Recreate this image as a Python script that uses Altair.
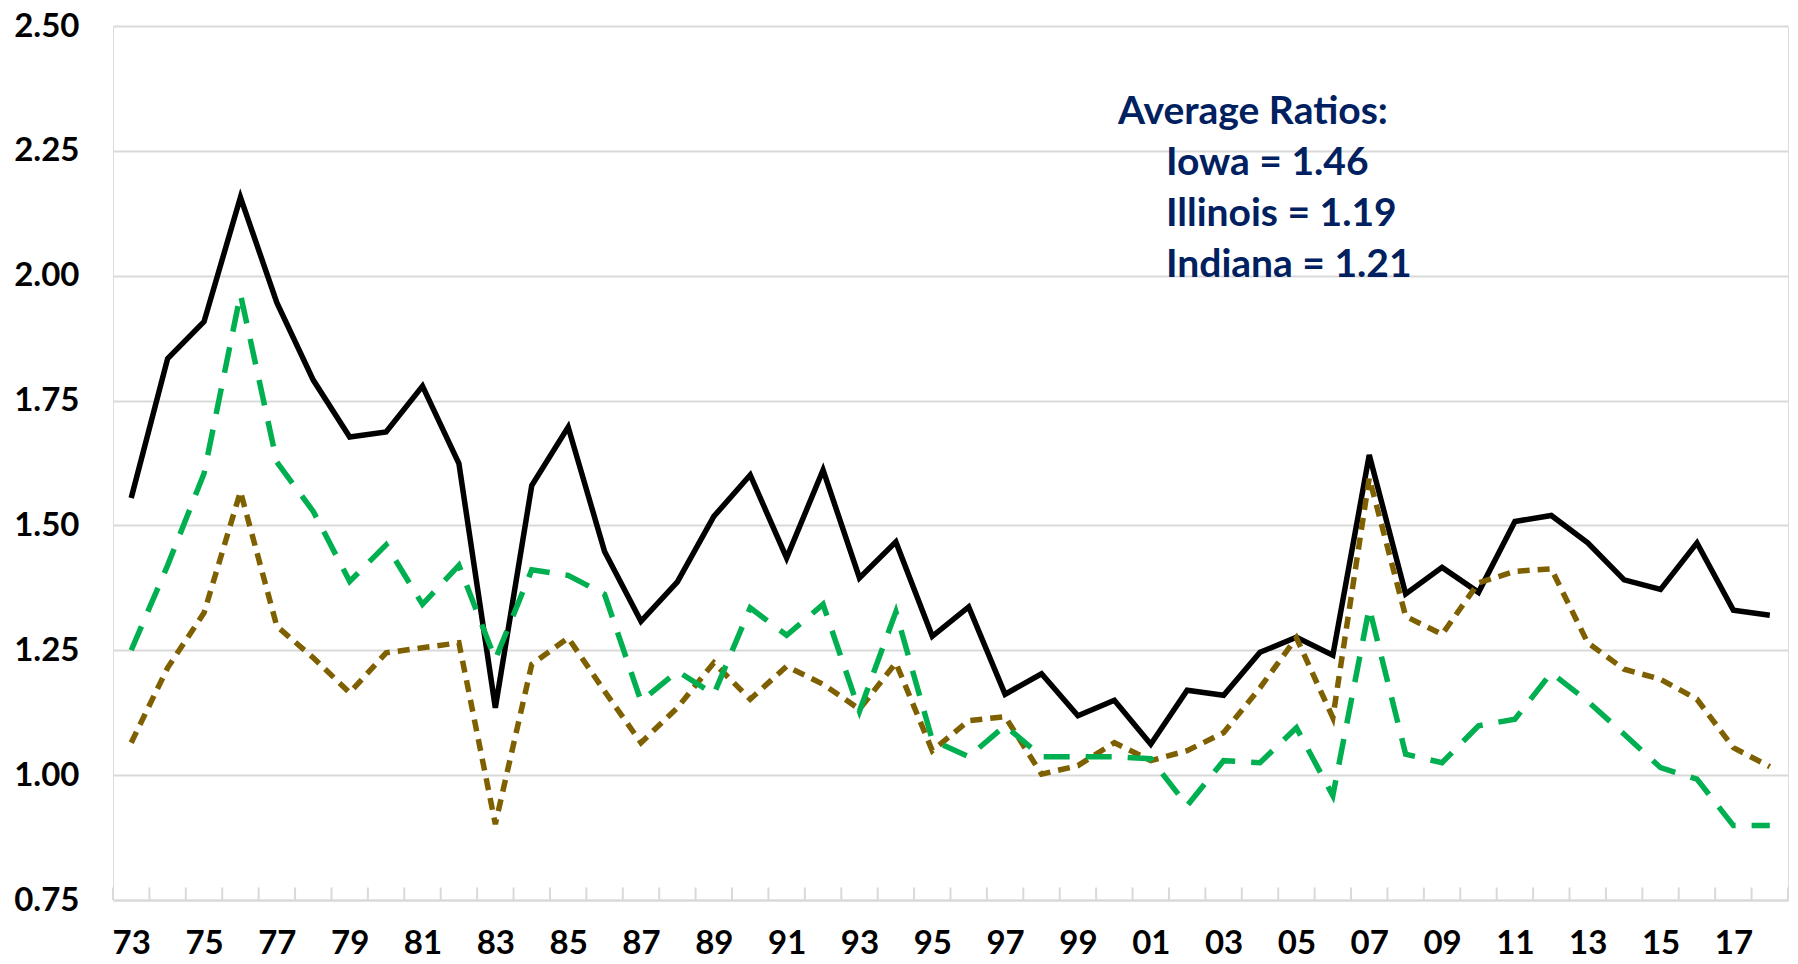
import altair as alt
import pandas as pd

years = list(range(1973, 2019))

iowa = [1.555, 1.834, 1.908, 2.157, 1.946, 1.791, 1.677, 1.687, 1.779, 1.624,
        1.135, 1.580, 1.697, 1.448, 1.308, 1.387, 1.518, 1.601, 1.435, 1.611,
        1.395, 1.467, 1.278, 1.337, 1.162, 1.203, 1.119, 1.150, 1.062, 1.170,
        1.160, 1.246, 1.276, 1.240, 1.641, 1.363, 1.416, 1.366, 1.508, 1.520,
        1.465, 1.391, 1.372, 1.465, 1.330, 1.320]

illinois = [1.065, 1.215, 1.325, 1.568, 1.298, 1.235, 1.165, 1.245, 1.255, 1.265,
            0.902, 1.222, 1.275, 1.168, 1.065, 1.135, 1.225, 1.152, 1.218, 1.182,
            1.132, 1.225, 1.049, 1.109, 1.117, 1.002, 1.019, 1.065, 1.029, 1.049,
            1.085, 1.175, 1.275, 1.115, 1.595, 1.318, 1.282, 1.385, 1.408, 1.413,
            1.265, 1.212, 1.192, 1.152, 1.055, 1.017]

indiana = [1.250, 1.420, 1.604, 1.963, 1.627, 1.528, 1.388, 1.461, 1.342, 1.420,
           1.232, 1.411, 1.400, 1.362, 1.148, 1.208, 1.162, 1.335, 1.280, 1.342,
           1.128, 1.327, 1.070, 1.037, 1.099, 1.037, 1.037, 1.037, 1.033, 0.939,
           1.029, 1.025, 1.095, 0.959, 1.335, 1.042, 1.025, 1.099, 1.112, 1.205,
           1.148, 1.082, 1.015, 0.992, 0.899, 0.899]

y_ticks = [0.75, 1.00, 1.25, 1.50, 1.75, 2.00, 2.25, 2.50]
x_label_years = list(range(1973, 2018, 2))
tick_bounds = [y - 0.5 for y in years] + [years[-1] + 0.5]

note_lines = ["Average Ratios:", "Iowa = 1.46", "Illinois = 1.19", "Indiana = 1.21"]

FONT = "Lato"
GRID = "#d9d9d9"

df_iowa = pd.DataFrame({"year": years, "ratio": iowa})
df_ill = pd.DataFrame({"year": years, "ratio": illinois})
df_ind = pd.DataFrame({"year": years, "ratio": indiana})
df_ticks = pd.DataFrame({"b": tick_bounds})

x_scale = alt.Scale(domain=[1972.5, 2018.5], nice=False, zero=False)
y_scale = alt.Scale(domain=[0.75, 2.5], nice=False, zero=False)

x_axis = alt.Axis(
    title="", values=x_label_years,
    labelExpr="substring(toString(datum.value), 2)",
    ticks=False, grid=False, domainColor=GRID, domainWidth=2,
    labelFont=FONT, labelFontWeight="bold", labelFontSize=33, labelColor="#000000",
    labelPadding=27, labelOverlap=False, labelBound=False, labelFlush=False,
)
y_axis = alt.Axis(
    title="", values=y_ticks, format=".2f",
    ticks=False, domain=False, grid=True, gridColor=GRID, gridWidth=2,
    labelFont=FONT, labelFontWeight="bold", labelFontSize=33, labelColor="#000000",
    labelPadding=34,
)

def line_layer(df, color, dash=None, width=5.5):
    kw = dict(color=color, strokeWidth=width)
    if dash:
        kw["strokeDash"] = dash
    return alt.Chart(df).mark_line(**kw).encode(
        x=alt.X("year:Q", scale=x_scale, axis=x_axis),
        y=alt.Y("ratio:Q", scale=y_scale, axis=y_axis),
    )

ticks = alt.Chart(df_ticks).mark_rule(color=GRID, strokeWidth=2).encode(
    x=alt.X("b:Q", scale=x_scale, axis=x_axis),
    y=alt.datum(0.75, scale=y_scale),
    y2=alt.datum(0.775),
)

l_iowa = line_layer(df_iowa, "#000000", width=5.5)
l_ill = line_layer(df_ill, "#7f6000", dash=[12, 8], width=5.5)
l_ind = line_layer(df_ind, "#00b050", dash=[26, 16], width=5.5)

note_pos_x = [1005, 1053, 1053, 1053]
note_pos_y = [86, 137, 188, 239]
texts = []
for t, px, py in zip(note_lines, note_pos_x, note_pos_y):
    texts.append(
        alt.Chart(pd.DataFrame({"t": [t]})).mark_text(
            font=FONT, fontWeight="bold", fontSize=39, color="#002060",
            align="left", baseline="middle",
        ).encode(text="t:N", x=alt.value(px), y=alt.value(py))
    )

chart = alt.layer(ticks, l_iowa, l_ill, l_ind, *texts).properties(
    width=1675, height=874,
    autosize=alt.AutoSizeParams(type="none"),
    padding={"left": 105, "top": 18, "right": 2, "bottom": 60},
).configure_view(stroke=None).configure(background="#ffffff")

chart.save("out.html", embed_options={"renderer": "svg", "actions": False})
